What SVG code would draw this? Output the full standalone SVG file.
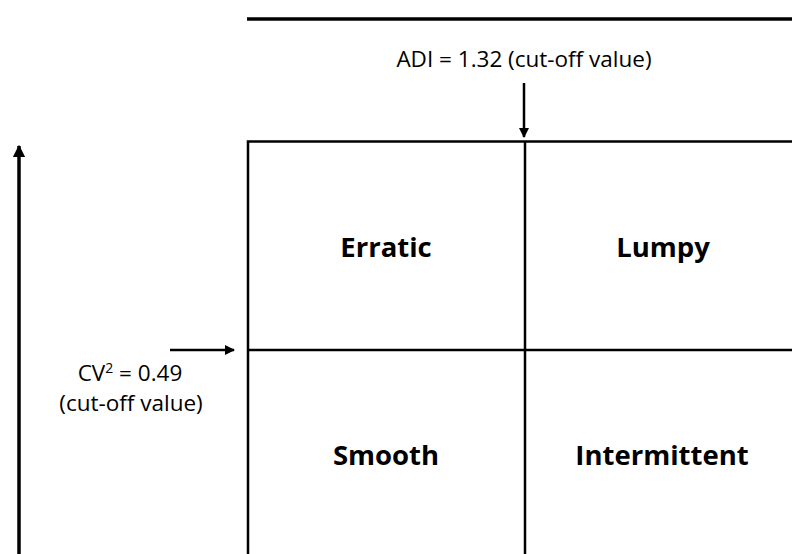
<svg xmlns="http://www.w3.org/2000/svg" width="792" height="554" viewBox="0 0 792 554">
<style>
.ln{stroke:#000;stroke-width:2.5;fill:none}
.thick{stroke:#000;stroke-width:3.5;fill:none}
.lbl{font-family:"Open Sans","Liberation Sans",sans-serif;font-size:22.5px;fill:#000;text-anchor:middle}
.q{font-family:"Open Sans","Liberation Sans",sans-serif;font-size:27.5px;font-weight:bold;fill:#000;text-anchor:middle}
</style>
<defs>
<marker id="ah" viewBox="0 0 10 10" refX="9" refY="5" markerWidth="4" markerHeight="4" orient="auto" markerUnits="strokeWidth">
<path d="M0,0 L10,5 L0,10 Z" fill="#000"/>
</marker>
<marker id="ah2" viewBox="0 0 10 10" refX="9" refY="5" markerWidth="3.5" markerHeight="3.5" orient="auto" markerUnits="strokeWidth">
<path d="M0,0 L10,5 L0,10 Z" fill="#000"/>
</marker>
</defs>
<g id="axes">
<line class="thick" x1="247" y1="19" x2="792" y2="19"/>
<line class="thick" x1="19" y1="554" x2="19" y2="146" marker-end="url(#ah2)"/>
</g>
<g id="grid">
<path class="ln" d="M792,141.5 L248,141.5 L248,554"/>
<line class="ln" x1="525" y1="141" x2="525" y2="554"/>
<line class="ln" x1="248" y1="350" x2="792" y2="350"/>
</g>
<g id="connectors">
<line class="ln" x1="524" y1="83" x2="524" y2="137" marker-end="url(#ah)"/>
<line class="ln" x1="170" y1="350" x2="234" y2="350" marker-end="url(#ah)"/>
</g>
<g id="adi"><text class="lbl" x="524" y="67">ADI = 1.32 (cut-off value)</text></g>
<g id="cv">
<text class="lbl" x="130" y="381">CV<tspan font-size="14" dy="-8">2</tspan><tspan dy="8"> = 0.49</tspan></text>
<text class="lbl" x="131" y="411">(cut-off value)</text>
</g>
<g id="erratic"><text class="q" x="386" y="257">Erratic</text></g>
<g id="lumpy"><text class="q" x="663" y="257">Lumpy</text></g>
<g id="smooth"><text class="q" x="386" y="465">Smooth</text></g>
<g id="intermittent"><text class="q" x="662" y="465">Intermittent</text></g>
</svg>
